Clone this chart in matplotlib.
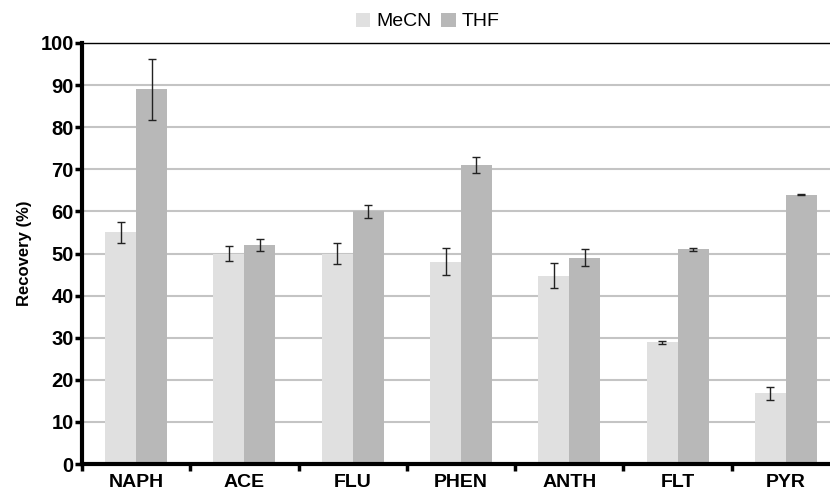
import matplotlib.pyplot as plt
import numpy as np

categories = ["NAPH", "ACE", "FLU", "PHEN", "ANTH", "FLT", "PYR"]
mecn = [55, 50, 50, 48, 44.7, 28.9, 16.8]
mecn_err = [2.6, 1.8, 2.5, 3.2, 3.0, 0.3, 1.6]
thf = [89, 52, 60, 71, 49, 51, 64]
thf_err = [7.3, 1.5, 1.6, 1.9, 2.0, 0.3, 0.2]

plt.rcParams["font.family"] = ["Liberation Sans", "DejaVu Sans"]

fig = plt.figure(figsize=(8.3, 4.95), dpi=100)
ax = fig.add_axes([82 / 830, 1 - 464 / 495, 758 / 830, (464 - 43) / 495])

x = np.arange(len(categories))
w = 0.286
ebar = dict(ecolor="#222222", elinewidth=1, capsize=3, capthick=1)
ax.bar(x - w / 2, mecn, w, yerr=mecn_err, color="#e0e0e0", label="MeCN",
       error_kw=ebar, zorder=3)
ax.bar(x + w / 2, thf, w, yerr=thf_err, color="#b8b8b8", label="THF",
       error_kw=ebar, zorder=3)

ax.set_xlim(-0.5, len(categories) - 0.5)
ax.set_ylim(0, 100)
ax.set_yticks(range(0, 101, 10))
ax.set_xticks(x)
ax.set_xticklabels(categories, fontsize=14, fontweight="bold")
ax.set_xticks(np.arange(len(categories) + 1) - 0.5, minor=True)
ax.tick_params(axis="x", which="major", length=0, pad=7)
ax.tick_params(axis="x", which="minor", length=5, width=2.5, direction="out")
ax.tick_params(axis="y", length=5, width=2.5, labelsize=14.5, pad=1)
for lab in ax.get_yticklabels():
    lab.set_fontweight("bold")

ax.grid(axis="y", color="#c4c4c4", linewidth=1.5, zorder=0)
ax.set_axisbelow(True)

ax.spines["left"].set_linewidth(3)
ax.spines["bottom"].set_linewidth(3)
ax.spines["top"].set_linewidth(1)
ax.spines["right"].set_visible(False)
ax.spines["bottom"].set_zorder(5)

ax.set_ylabel("Recovery (%)", fontsize=12, fontweight="bold", labelpad=6)

fig.legend(loc="upper center", bbox_to_anchor=(0.515, 1.01), ncol=2, frameon=False,
           fontsize=14, handlelength=0.75, handleheight=0.75, handletextpad=0.3,
           columnspacing=0.5)

fig.savefig("out.png", dpi=100)
